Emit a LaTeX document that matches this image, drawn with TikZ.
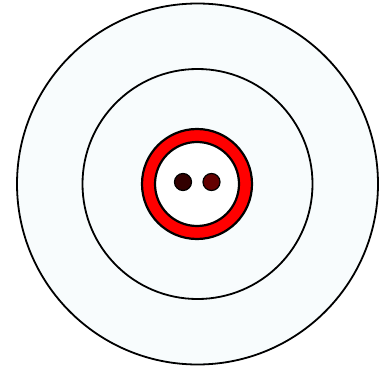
\documentclass[tikz,border=0pt]{standalone}
\begin{document}
\begin{tikzpicture}[x=1pt,y=-1pt,
  ringline/.style={draw=black,line width=1.8pt},
  pale/.style={fill={rgb,255:red,248;green,252;blue,253}}]
\useasboundingbox (0,0) rectangle (388,369);
\node[circle,minimum size=361pt,inner sep=0pt,ringline,pale] (outer) at (197.5,184) {};
\node[circle,minimum size=230pt,inner sep=0pt,ringline,pale] (middle) at (197.5,184) {};
\node[circle,minimum size=110pt,inner sep=0pt,ringline,line width=2.2pt,fill={rgb,255:red,255;green,0;blue,0}] (ring) at (197,184) {};
\node[circle,minimum size=84pt,inner sep=0pt,ringline,line width=2.2pt,fill=white] (hole) at (197,184) {};
\node[circle,minimum size=17pt,inner sep=0pt,draw=black,line width=1.2pt,fill={rgb,255:red,50;green,0;blue,0}] (dotl) at (183,182) {};
\node[circle,minimum size=17pt,inner sep=0pt,draw=black,line width=1.2pt,fill={rgb,255:red,100;green,0;blue,0}] (dotr) at (211.5,182) {};
\end{tikzpicture}
\end{document}
